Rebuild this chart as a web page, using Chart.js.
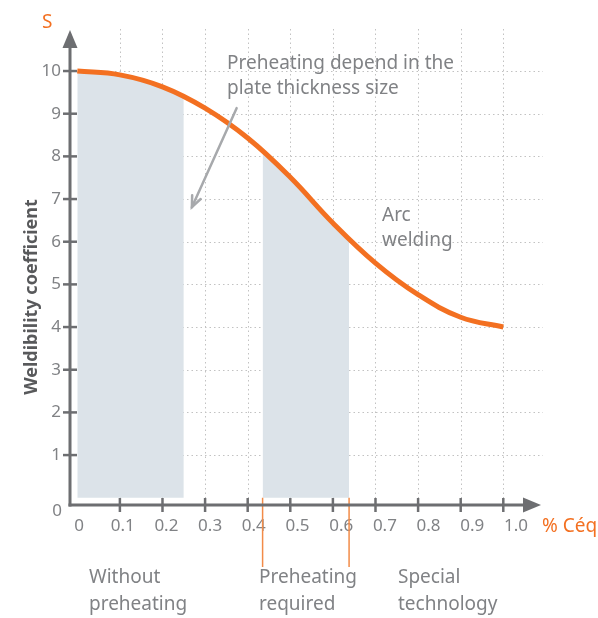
<!DOCTYPE html>
<html>
<head>
<meta charset="utf-8">
<script src="https://cdn.jsdelivr.net/npm/chart.js@4"></script>
<style>
  html, body { margin: 0; padding: 0; background: #fff; }
  canvas { display: block; }
</style>
</head>
<body>
<canvas id="chart" width="598" height="618"></canvas>
<script>
// data
const xValues = [0, 0.1, 0.2, 0.3, 0.4, 0.5, 0.6, 0.7, 0.8, 0.9, 1.0];
const weldability = [10, 9.91, 9.63, 9.13, 8.43, 7.51, 6.44, 5.5, 4.76, 4.23, 4.0];

const zone1X = [0, 0.1, 0.2, 0.25];
const zone1Y = [10, 9.91, 9.63, 9.35];
const zone2X = [0.435, 0.5, 0.6, 0.638];
const zone2Y = [8.1, 7.51, 6.44, 6.0];

const xTicks = [0, 0.1, 0.2, 0.3, 0.4, 0.5, 0.6, 0.7, 0.8, 0.9, 1.0];
const xTickLabels = ["0", "0.1", "0.2", "0.3", "0.4", "0.5", "0.6", "0.7", "0.8", "0.9", "1.0"];
const yTicks = [1, 2, 3, 4, 5, 6, 7, 8, 9, 10];

const zoneBounds = [0.435, 0.638];
const zoneLabels = [["Without", "preheating"], ["Preheating", "required"], ["Special", "technology"]];

const FONT = '"Noto Sans", "Open Sans", sans-serif';
const GRAY = "#808285";
const AXIS = "#6d6e71";
const ORANGE = "#f37021";
const SHADE = "#dce3e9";

const toPoints = (xs, ys) => xs.map((x, i) => ({ x: x, y: ys[i] }));

const decor = {
  id: "decor",
  beforeDatasetsDraw(chart) {
    const { ctx, chartArea: a, scales: { x, y } } = chart;
    ctx.save();
    ctx.strokeStyle = "#c2c2c2";
    ctx.lineWidth = 1;
    ctx.setLineDash([1.5, 3]);
    yTicks.forEach(v => {
      const py = Math.round(y.getPixelForValue(v)) + 0.5;
      ctx.beginPath(); ctx.moveTo(a.left, py); ctx.lineTo(a.right, py); ctx.stroke();
    });
    xTicks.slice(1).forEach(v => {
      const px = Math.round(x.getPixelForValue(v)) + 0.5;
      ctx.beginPath(); ctx.moveTo(px, a.top); ctx.lineTo(px, a.bottom); ctx.stroke();
    });
    ctx.restore();
  },
  afterDatasetsDraw(chart) {
    const { ctx, chartArea: a, scales: { x, y } } = chart;
    const ax = a.left, ay = a.bottom;
    ctx.save();

    // zone markers
    ctx.strokeStyle = "#f28b48";
    ctx.lineWidth = 1.5;
    zoneBounds.forEach(v => {
      const px = x.getPixelForValue(v);
      ctx.beginPath(); ctx.moveTo(px, y.getPixelForValue(0)); ctx.lineTo(px, 567); ctx.stroke();
    });

    // axes
    ctx.strokeStyle = AXIS;
    ctx.fillStyle = AXIS;
    ctx.lineWidth = 3;
    ctx.beginPath(); ctx.moveTo(ax, ay + 1.5); ctx.lineTo(ax, 44); ctx.stroke();
    ctx.beginPath(); ctx.moveTo(ax - 1.5, ay); ctx.lineTo(528, ay); ctx.stroke();
    ctx.beginPath(); ctx.moveTo(ax, 30); ctx.lineTo(ax - 7.5, 48); ctx.lineTo(ax + 7.5, 48); ctx.closePath(); ctx.fill();
    ctx.beginPath(); ctx.moveTo(541, ay); ctx.lineTo(523, ay - 7.5); ctx.lineTo(523, ay + 7.5); ctx.closePath(); ctx.fill();

    // tick marks
    ctx.lineWidth = 2.5;
    yTicks.forEach(v => {
      const py = y.getPixelForValue(v);
      ctx.beginPath(); ctx.moveTo(ax - 7, py); ctx.lineTo(ax + 7, py); ctx.stroke();
    });
    xTicks.slice(1).forEach(v => {
      const px = x.getPixelForValue(v);
      ctx.beginPath(); ctx.moveTo(px, ay - 7); ctx.lineTo(px, ay + 7); ctx.stroke();
    });

    // annotation arrow
    const p1 = { x: x.getPixelForValue(0.374), y: y.getPixelForValue(9.13) };
    const p2 = { x: x.getPixelForValue(0.269), y: y.getPixelForValue(6.81) };
    const ang = Math.atan2(p2.y - p1.y, p2.x - p1.x);
    ctx.strokeStyle = "#a7a9ac";
    ctx.lineWidth = 2.5;
    ctx.lineCap = "round";
    ctx.beginPath(); ctx.moveTo(p1.x, p1.y); ctx.lineTo(p2.x, p2.y); ctx.stroke();
    ctx.beginPath();
    ctx.moveTo(p2.x - 12 * Math.cos(ang - 0.4), p2.y - 12 * Math.sin(ang - 0.4));
    ctx.lineTo(p2.x, p2.y);
    ctx.lineTo(p2.x - 12 * Math.cos(ang + 0.4), p2.y - 12 * Math.sin(ang + 0.4));
    ctx.stroke();

    // texts
    ctx.textBaseline = "middle";
    ctx.fillStyle = GRAY;
    ctx.font = "17px " + FONT;
    ctx.textAlign = "right";
    ctx.fillText("0", 62, 511);

    ctx.textAlign = "left";
    ctx.font = "19px " + FONT;
    ctx.fillText("Preheating depend in the", 227, 64);
    ctx.fillText("plate thickness size", 227, 89);
    ctx.fillText("Arc", 382, 216);
    ctx.fillText("welding", 382, 241);
    const lefts = [89, 259, 398];
    zoneLabels.forEach((lines, i) => {
      ctx.fillText(lines[0], lefts[i], 578);
      ctx.fillText(lines[1], lefts[i], 605);
    });

    ctx.fillStyle = ORANGE;
    ctx.fillText("S", 42, 23);
    ctx.fillText("% Céq", 542, 527);

    ctx.save();
    ctx.translate(32, 297);
    ctx.rotate(-Math.PI / 2);
    ctx.textAlign = "center";
    ctx.fillStyle = "#58595b";
    ctx.font = "bold 18px " + FONT;
    ctx.fillText("Weldibility coefficient", 0, 0);
    ctx.restore();

    ctx.restore();
  }
};

new Chart(document.getElementById("chart"), {
  type: "line",
  data: {
    datasets: [
      {
        data: toPoints(xValues, weldability),
        borderColor: ORANGE,
        borderWidth: 5,
        pointRadius: 0,
        tension: 0.4,
        fill: false,
        order: 0
      },
      {
        data: toPoints(zone1X, zone1Y),
        borderWidth: 0,
        pointRadius: 0,
        backgroundColor: SHADE,
        tension: 0.4,
        fill: "origin",
        order: 1
      },
      {
        data: toPoints(zone2X, zone2Y),
        borderWidth: 0,
        pointRadius: 0,
        backgroundColor: SHADE,
        tension: 0.4,
        fill: "origin",
        order: 1
      }
    ]
  },
  options: {
    responsive: false,
    animation: false,
    devicePixelRatio: 1,
    layout: { padding: { top: 29, right: 55, left: 0, bottom: 0 } },
    plugins: { legend: { display: false }, tooltip: { enabled: false } },
    scales: {
      x: {
        type: "linear",
        display: false,
        min: -0.0171,
        max: 1.0932
      },
      xl: {
        type: "linear",
        position: "bottom",
        min: -0.0206,
        max: 1.0618,
        grid: { display: false, drawTicks: false },
        border: { display: false },
        afterBuildTicks(s) { s.ticks = xTicks.map(v => ({ value: v })); },
        afterFit(s) { s.height = 113; },
        ticks: {
          autoSkip: false,
          maxRotation: 0,
          padding: 11,
          color: GRAY,
          font: { family: FONT, size: 17 },
          callback: (v) => xTickLabels[xTicks.indexOf(v)]
        }
      },
      y: {
        type: "linear",
        min: -0.17,
        max: 10.985,
        grid: { display: false, drawTicks: false },
        border: { display: false },
        afterBuildTicks(s) { s.ticks = yTicks.map(v => ({ value: v })); },
        afterFit(s) { s.width = 70; },
        ticks: {
          padding: 9,
          color: GRAY,
          font: { family: FONT, size: 17 }
        }
      }
    }
  },
  plugins: [decor]
});
</script>
</body>
</html>
